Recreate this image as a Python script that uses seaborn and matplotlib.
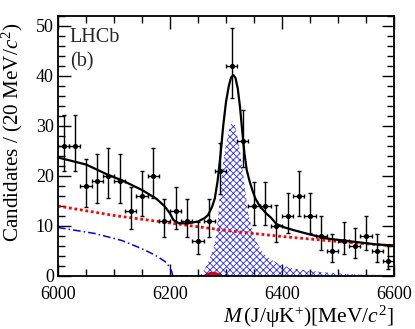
import numpy as np
import matplotlib
matplotlib.use('Agg')
import matplotlib.pyplot as plt
from matplotlib.ticker import MultipleLocator
import seaborn as sns

# ─────────────────────────────────────────────
# Data
# ─────────────────────────────────────────────
bin_centres = [6010, 6030, 6050, 6070, 6090, 6110, 6130, 6150, 6170, 6190,
               6210, 6230, 6250, 6270, 6290, 6310, 6330, 6350, 6370, 6390,
               6410, 6430, 6450, 6470, 6490, 6510, 6530, 6550, 6570, 6590]
counts = [26, 26, 18, 19, 20, 19, 13, 16, 20, 11,
          13, 11, 7, 11, 21, 42, 27, 14, 14, 10,
          12, 16, 12, 8, 5, 7, 6, 8, 5, 3]

# total fit (black)
total_m = [6000, 6050, 6090, 6115, 6150, 6175, 6190, 6200, 6206, 6215, 6230,
           6250, 6262, 6268, 6275, 6280, 6285, 6290, 6295, 6300, 6305, 6309,
           6313, 6317, 6321, 6325, 6329, 6333, 6337, 6342, 6347, 6352, 6358,
           6364, 6372, 6380, 6390, 6405, 6420, 6450, 6480, 6510, 6540, 6570,
           6600]
total_v = [23.7, 22.3, 20.2, 19.1, 17.2, 15.5, 14.0, 12.5, 11.2, 10.6, 10.5,
           10.9, 11.6, 12.2, 13.8, 15.5, 19.0, 24.0, 30.0, 34.8, 38.0, 39.7,
           40.2, 39.6, 37.5, 33.8, 29.0, 24.5, 21.2, 19.0, 17.2, 15.6, 14.4,
           13.5, 12.5, 11.7, 10.4, 9.7, 9.2, 8.3, 7.5, 7.1, 6.7, 6.3,
           6.1]

# signal component (blue hatched)
sig_m = [6250, 6257, 6265, 6272, 6277, 6282, 6286, 6290, 6295, 6300, 6305,
         6309, 6312, 6316, 6320, 6325, 6330, 6335, 6340, 6345, 6350, 6357,
         6365, 6375, 6385, 6396, 6410, 6425, 6450, 6480, 6510, 6540, 6570,
         6600]
sig_v = [0.0, 0.5, 2.0, 3.8, 5.2, 8.0, 12.0, 17.5, 23.0, 26.5, 29.0,
         30.5, 31.0, 30.2, 28.2, 25.0, 21.0, 16.5, 12.5, 10.0, 8.3, 6.3,
         4.8, 3.7, 3.0, 2.3, 1.8, 1.4, 1.05, 0.7, 0.45, 0.3, 0.25,
         0.2]

# small peaking background (red fill)
small_m = [6257, 6265, 6271, 6277, 6283, 6288, 6298]
small_v = [0.0, 0.5, 0.8, 0.87, 0.75, 0.5, 0.0]

# partially reconstructed background (blue dash-dot)
part_m = [6000, 6066, 6114, 6149, 6173, 6191, 6198, 6203, 6205, 6260]
part_v = [9.7, 8.5, 7.1, 5.5, 4.2, 2.9, 2.0, 0.9, 0.0, 0.0]

# combinatorial background (red dotted)
comb_m = [6000, 6100, 6200, 6300, 6400, 6500, 6600]
comb_v = [14.0, 12.1, 10.6, 9.1, 7.9, 6.9, 6.0]

# ─────────────────────────────────────────────
# Style
# ─────────────────────────────────────────────
sns.set_theme(style='ticks')
plt.rcParams['font.family'] = ['Liberation Serif', 'DejaVu Serif']
plt.rcParams['mathtext.fontset'] = 'custom'
plt.rcParams['mathtext.rm'] = 'Liberation Serif'
plt.rcParams['mathtext.it'] = 'Liberation Serif:italic'
plt.rcParams['hatch.linewidth'] = 0.6

fig = plt.figure(figsize=(4.15, 3.29), dpi=100)
ax = fig.add_axes([58 / 415, 1 - 276 / 329, 336 / 415, 260 / 329])

ax.fill_between(sig_m, sig_v, 0, facecolor='none', edgecolor='#2a2aff',
                hatch='xxxxx', linewidth=0)
ax.fill_between(small_m, small_v, 0, facecolor='#d00020', edgecolor='none')

sns.lineplot(x=part_m, y=part_v, ax=ax, color='#0000ff', lw=1.1,
             linestyle=(0, (5, 2, 1, 2)), sort=False, estimator=None)
sns.lineplot(x=comb_m, y=comb_v, ax=ax, color='#ff0000', lw=2.0,
             linestyle=(0, (1, 1)), sort=False, estimator=None)
sns.lineplot(x=total_m, y=total_v, ax=ax, color='black', lw=1.6,
             sort=False, estimator=None)

# Poisson (Gehrels) errors on the counts
n = np.array(counts, dtype=float)
err_hi = 1 + np.sqrt(n + 0.75)
err_lo = np.sqrt(n - 0.25)
ax.errorbar(bin_centres, counts, xerr=10, yerr=[err_lo, err_hi], fmt='none',
            ecolor='black', elinewidth=1.0, capsize=1.6, capthick=1.0)
sns.scatterplot(x=bin_centres, y=counts, ax=ax, color='black', s=14,
                edgecolor='black', linewidth=0, zorder=5)

ax.set_xlim(6000, 6600)
ax.set_ylim(0, 52)
ax.xaxis.set_major_locator(MultipleLocator(200))
ax.xaxis.set_minor_locator(MultipleLocator(50))
ax.yaxis.set_major_locator(MultipleLocator(10))
ax.yaxis.set_minor_locator(MultipleLocator(2))
ax.tick_params(which='both', direction='in', top=True, right=True,
               labelsize=13, colors='black', width=1.0)
ax.tick_params(which='major', length=9)
ax.tick_params(which='minor', length=5)
ax.tick_params(axis='x', pad=7.5)
ax.tick_params(axis='y', pad=3)
for spine in ax.spines.values():
    spine.set_linewidth(1.3)
    spine.set_color('black')

ax.set_ylabel('Candidates / (20 MeV/$c^{2}$)', fontsize=15.2, color='black')
ax.yaxis.set_label_coords(-0.097, 0.552)
ax.set_xlabel(r'$M\,(\mathrm{J/\psi K^{+}})[\mathrm{MeV}/c^{2}]$',
              fontsize=15.5, color='black', loc='right', labelpad=0)

ax.text(0.035, 0.955, 'LHCb', transform=ax.transAxes, fontsize=14.5,
        va='top', ha='left')
ax.text(0.035, 0.86, '(b)', transform=ax.transAxes, fontsize=14.5,
        va='top', ha='left')

fig.savefig('out.png', dpi=100)
